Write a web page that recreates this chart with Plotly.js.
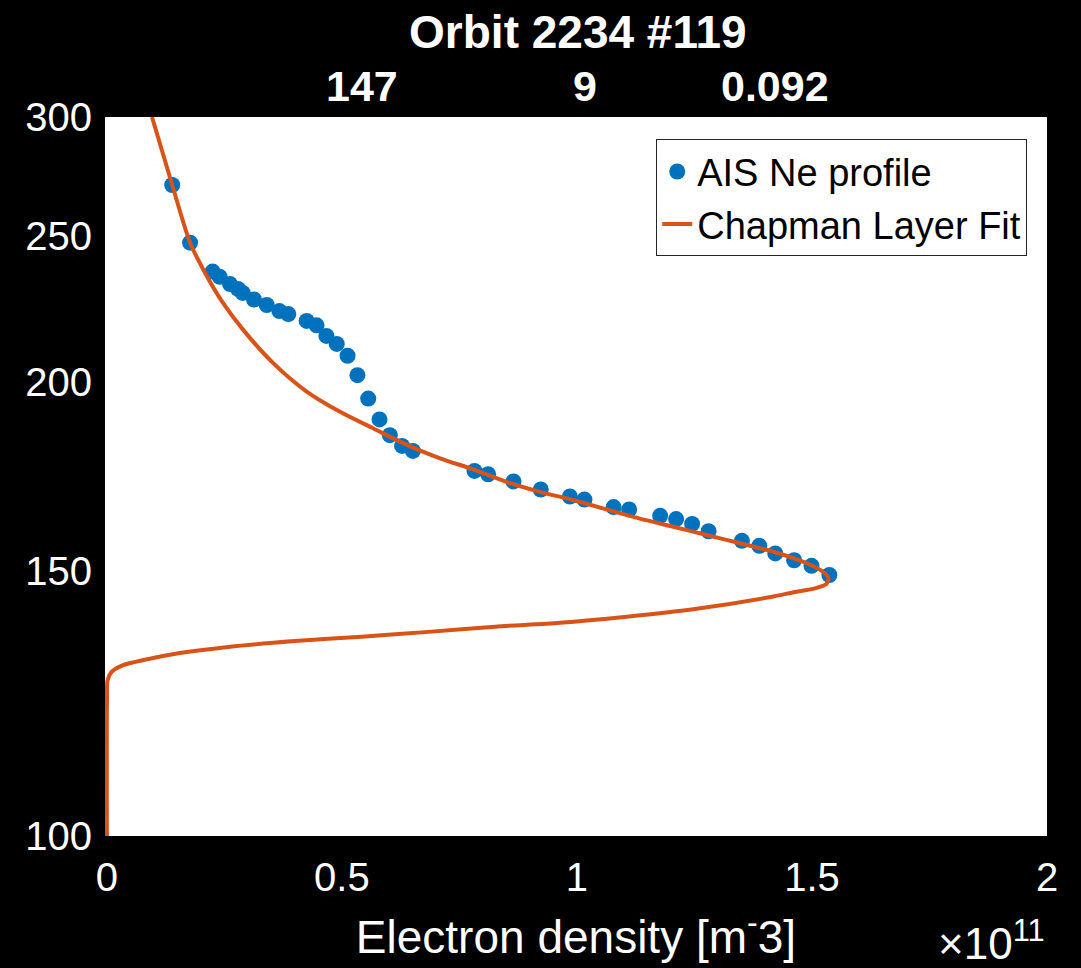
<!DOCTYPE html>
<html>
<head>
<meta charset="utf-8">
<script src="https://cdn.plot.ly/plotly-3.0.1.min.js"></script>
<style>html,body{margin:0;padding:0;background:#000;}#chart{width:1081px;height:968px;}</style>
</head>
<body>
<div id="chart"></div>
<script>
// Electron density in units of 1e11 m^-3, altitude in km
const aisDensity = [0.139,0.177,0.225,0.240,0.262,0.279,0.289,0.313,0.340,0.367,0.386,0.425,0.446,0.467,0.489,0.512,0.533,0.556,0.580,0.602,0.628,0.651,0.782,0.811,0.865,0.923,0.985,1.016,1.078,1.111,1.177,1.211,1.245,1.280,1.351,1.388,1.422,1.462,1.499,1.537];
const aisAltitude = [270.4,247.6,236.9,235.0,232.4,230.7,229.3,227.0,225.1,223.0,222.0,219.7,218.2,214.7,212.1,208.3,202.2,195.1,189.0,184.5,181.5,180.1,174.7,173.8,171.9,169.8,168.0,167.2,165.3,164.7,163.1,162.3,161.1,159.3,157.0,155.8,154.0,152.4,151.1,149.0];

const fitDensity = [0.096,0.139,0.177,0.209,0.247,0.290,0.355,0.425,0.496,0.567,0.638,0.709,0.779,0.850,0.921,0.992,1.063,1.134,1.205,1.276,1.347,1.418,1.489,1.524,1.535,1.531,1.506,1.464,1.418,1.247,1.106,0.964,0.826,0.684,0.542,0.400,0.258,0.152,0.081,0.031,0.010,0.0015,0.0002,0];
const fitAltitude = [300,270.4,247.6,236.4,225.8,216.7,205.8,197.2,191.2,186.4,181.8,178.1,175.1,171.8,169.2,167.1,164.7,162.4,160.4,158.4,156.4,154.4,151.7,149.7,148.3,147.0,146.0,145.2,144.2,141.4,139.8,138.5,137.7,136.6,135.6,134.7,133.5,132.2,130.9,129.7,128.5,126.9,123.1,100];

const xTickVals = [0,0.5,1,1.5,2];
const xTickText = ['0','0.5','1','1.5','2'];
const yTickVals = [100,150,200,250,300];
const yTickText = ['100','150','200','250','300'];

const titleText = 'Orbit 2234 #119';
const fitParams = ['147','9','0.092'];
const fitParamPos = [0.273,0.510,0.711];

const font = 'Liberation Sans, Arial, Helvetica, sans-serif';

const traces = [
  {x: aisDensity, y: aisAltitude, mode: 'markers', type: 'scatter', name: 'AIS Ne profile',
   marker: {color: '#0072BD', size: 16}},
  {x: fitDensity, y: fitAltitude, mode: 'lines', type: 'scatter', name: 'Chapman Layer Fit',
   line: {color: '#D95319', width: 4, shape: 'spline', smoothing: 0.8}}
];

const annotations = fitParams.map((t, i) => ({
  text: '<b>' + t + '</b>', xref: 'paper', yref: 'paper', x: fitParamPos[i], y: 1.043,
  xanchor: 'center', yanchor: 'middle', showarrow: false,
  font: {family: font, size: 43, color: '#fff'}
}));
annotations.push({
  text: '×10<sup>11</sup>', xref: 'paper', yref: 'paper', x: 1.0, y: -0.145,
  xanchor: 'right', yanchor: 'middle', showarrow: false,
  font: {family: font, size: 44, color: '#fff'}
});

const layout = {
  width: 1081, height: 968,
  paper_bgcolor: '#000', plot_bgcolor: '#fff',
  margin: {l: 105, r: 34, t: 117, b: 132},
  title: {text: '<b>' + titleText + '</b>', x: 0.502, xref: 'paper', y: 0.967, yanchor: 'middle',
          font: {family: font, size: 46, color: '#fff'}},
  xaxis: {range: [-0.004, 2.0], tickvals: xTickVals, ticktext: xTickText,
          showgrid: false, zeroline: false, showline: false, ticks: '',
          ticklabelstandoff: 14,
          tickfont: {family: font, size: 40, color: '#fff'},
          title: {text: 'Electron density [m<sup>-</sup>3]', standoff: 22,
                  font: {family: font, size: 46, color: '#fff'}}},
  yaxis: {type: 'log', range: [2, Math.log10(300)], tickvals: yTickVals, ticktext: yTickText,
          showgrid: false, zeroline: false, showline: false, ticks: '',
          ticklabelstandoff: 12,
          tickfont: {family: font, size: 40, color: '#fff'}},
  legend: {x: 0.979, y: 0.969, xanchor: 'right', yanchor: 'top',
           bgcolor: '#fff', bordercolor: '#262626', borderwidth: 1,
           font: {family: font, size: 38, color: '#000'}, tracegroupgap: 0},
  showlegend: true,
  annotations: annotations
};

Plotly.newPlot('chart', traces, layout, {displayModeBar: false, staticPlot: true});
</script>
</body>
</html>
